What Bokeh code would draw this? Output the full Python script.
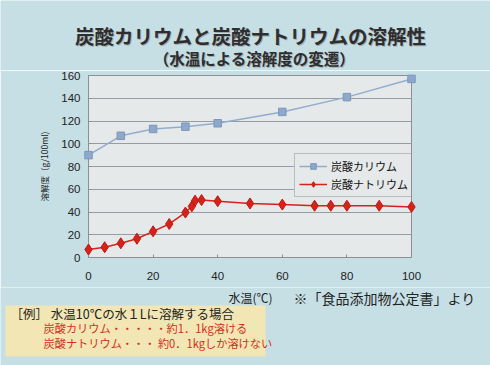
from bokeh.plotting import figure
from bokeh.layouts import column
from bokeh.models import Range1d, Label, BoxAnnotation, Legend, LegendItem, FixedTicker, ColumnDataSource
from bokeh.embed import file_html
from bokeh.resources import INLINE

# ---- data ----
k_temp = [0, 10, 20, 30, 40, 60, 80, 100]
k_sol = [90, 107, 113, 115, 118, 128, 141, 157]
na_temp = [0, 5, 10, 15, 20, 25, 30, 32, 33, 35, 40, 50, 60, 70, 75, 80, 90, 100]
na_sol = [7, 9, 12.5, 16.5, 23, 29.5, 39.5, 45, 50, 50.5, 49.5, 47.5, 46.5, 45.5, 45.5, 45.5, 45.5, 44.5]
x_ticks = [0, 20, 40, 60, 80, 100]
y_ticks = [0, 20, 40, 60, 80, 100, 120, 140, 160]
series_names = ["炭酸カリウム", "炭酸ナトリウム"]

JP = "Noto Sans CJK JP"
BG = "#c6dfe5"
PLOT_BG = "#e6e9ea"
K_COLOR = "#93accd"
NA_COLOR = "#d5231b"
NOTE_RED = "#d2301c"
W = 490


def blank(height):
    f = figure(width=W, height=height, output_backend="svg", toolbar_location=None,
               x_range=Range1d(0, W), y_range=Range1d(0, height),
               x_axis_type=None, y_axis_type=None, frame_align=False,
               min_border=0, min_border_left=0, min_border_right=0,
               min_border_top=0, min_border_bottom=0)
    f.border_fill_color = BG
    f.background_fill_color = BG
    f.outline_line_color = None
    return f


def lab(f, x, y, text, size, color="#222222", align="center", style="normal", font=JP):
    f.add_layout(Label(x=x, y=y, x_units="screen", y_units="screen", text=text,
                       text_font=font, text_font_size=size, text_color=color,
                       text_align=align, text_baseline="middle", text_font_style=style))


# ---- title panel ----
top = blank(70)
lab(top, 251, 34, "炭酸カリウムと炭酸ナトリウムの溶解性", "19.5px", color="#a3adb1", style="bold")
lab(top, 250, 35, "炭酸カリウムと炭酸ナトリウムの溶解性", "19.5px", color="#2e2e2e", style="bold")
lab(top, 255, 12, "（水温による溶解度の変遷）", "15.5px", color="#a3adb1", style="bold")
lab(top, 254, 13, "（水温による溶解度の変遷）", "15.5px", color="#2e2e2e", style="bold")

# ---- main chart ----
p = figure(width=W, height=217, output_backend="svg", toolbar_location=None,
           x_range=Range1d(0, 100), y_range=Range1d(0, 160), frame_align=False,
           min_border_left=88, min_border_right=79, min_border_top=5, min_border_bottom=30)
p.border_fill_color = BG
p.background_fill_color = PLOT_BG
p.outline_line_color = "#8a9096"

ks = ColumnDataSource(dict(x=k_temp, y=k_sol))
ns = ColumnDataSource(dict(x=na_temp, y=na_sol))

r1 = p.line("x", "y", source=ks, line_color=K_COLOR, line_width=1.5)
s1 = p.scatter("x", "y", source=ks, marker="square", size=7.5, fill_color="#8ea8cb",
               line_color="#7d97bb", level="overlay")
r2 = p.line("x", "y", source=ns, line_color=NA_COLOR, line_width=1.5)
s2 = p.scatter("x", "y", source=ns, marker="diamond", size=11, fill_color=NA_COLOR,
               line_color="#c01810", level="overlay")

p.xaxis.ticker = FixedTicker(ticks=x_ticks)
p.yaxis.ticker = FixedTicker(ticks=y_ticks)
for ax in (p.xaxis[0], p.yaxis[0]):
    ax.major_label_text_font = "Liberation Sans"
    ax.major_label_text_font_size = "11.5px"
    ax.major_label_text_color = "#222222"
    ax.axis_line_color = "#8a9096"
    ax.major_tick_line_color = "#8a9096"
    ax.major_tick_out = 0
    ax.major_tick_in = 3
    ax.minor_tick_line_color = None
    ax.axis_label_text_font = JP
    ax.axis_label_text_font_style = "normal"
    ax.axis_label_text_color = "#222222"
p.xaxis.major_label_standoff = 14
p.yaxis.major_label_standoff = 8
p.yaxis.axis_label = "溶解度（g/100ml)"
p.yaxis.axis_label_text_font_size = "8.5px"
p.yaxis.axis_label_standoff = 8

p.xgrid.grid_line_color = None
p.ygrid.grid_line_color = "#979da3"
p.ygrid.grid_line_width = 1

legend = Legend(items=[LegendItem(label=series_names[0], renderers=[r1, s1]),
                       LegendItem(label=series_names[1], renderers=[r2, s2])],
                location=(206, 60))
legend.label_text_font = JP
legend.label_text_font_size = "11px"
legend.label_text_color = "#111111"
legend.label_standoff = 4
legend.label_height = 14
legend.glyph_width = 28
legend.glyph_height = 14
legend.spacing = 2
legend.padding = 4
legend.margin = 0
legend.border_line_color = "#8a9096"
legend.background_fill_color = PLOT_BG
legend.background_fill_alpha = 1.0
p.add_layout(legend)

# ---- notes panel ----
bot = blank(78)
lab(bot, 250, 68, "水温(℃)", "12px")
lab(bot, 293, 68, "※「食品添加物公定書」より", "14px", align="left")
bot.add_layout(BoxAnnotation(left=5, right=265, bottom=9, top=60,
                             left_units="screen", right_units="screen",
                             bottom_units="screen", top_units="screen",
                             fill_color="#f1e6b4", fill_alpha=1.0, line_color=None))
lab(bot, 10, 52, "［例］ 水温10℃の水１Lに溶解する場合", "12.5px", align="left")
lab(bot, 43, 38, "炭酸カリウム・・・・・約1．1kg溶ける", "11.2px", color=NOTE_RED, align="left")
lab(bot, 43, 23, "炭酸ナトリウム・・・ 約0．1kgしか溶けない", "11.2px", color=NOTE_RED, align="left")

layout = column(top, p, bot, spacing=0)
open("out.html", "w").write(file_html(layout, INLINE))
